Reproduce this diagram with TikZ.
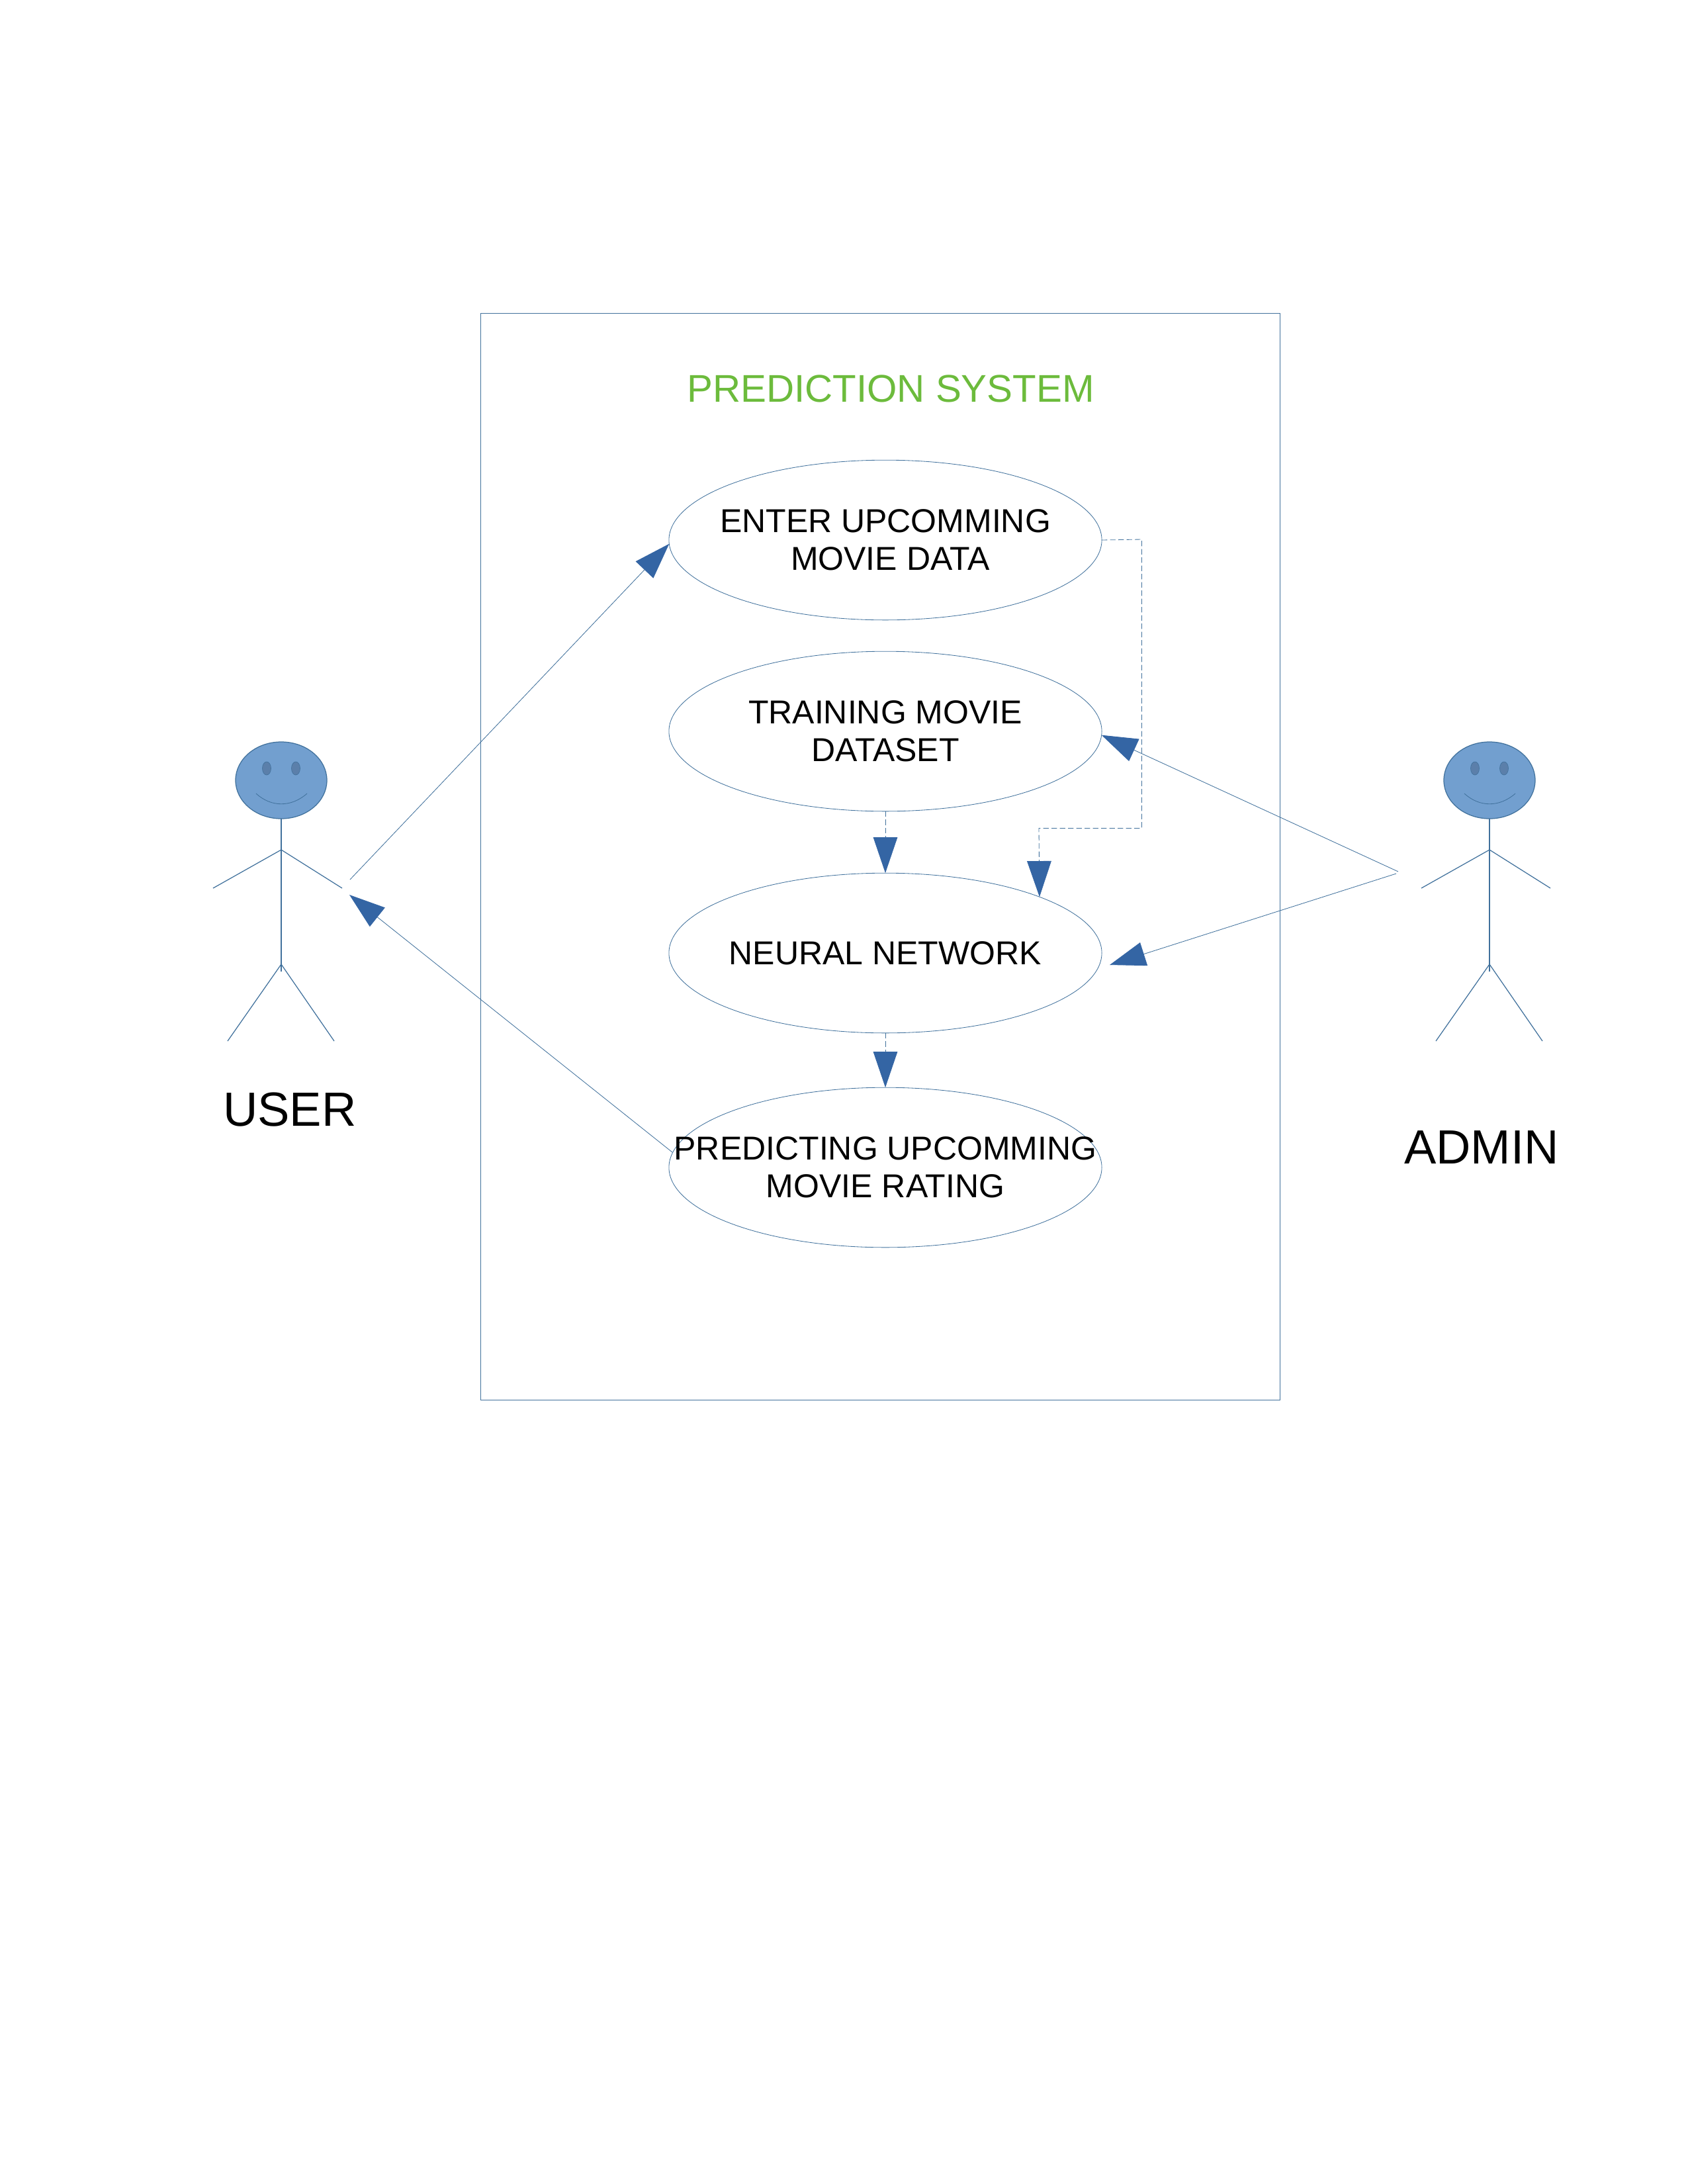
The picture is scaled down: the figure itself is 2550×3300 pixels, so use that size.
\documentclass[tikz,border=0pt]{standalone}
\usepackage{fontspec}
\setmainfont{Liberation Sans}
\usetikzlibrary{arrows.meta,shapes.geometric}
\definecolor{lineblue}{HTML}{41719C}
\definecolor{tipblue}{HTML}{3465A4}
\definecolor{headblue}{HTML}{729FCF}
\definecolor{eyeblue}{HTML}{5B7FAA}
\definecolor{titlegreen}{HTML}{6CBB3C}
\tikzset{
  usecase/.style={draw=lineblue,line width=.2pt,ellipse,minimum width=157pt,minimum height=58pt,
    inner xsep=-22pt,inner ysep=0pt,outer sep=0pt,align=center,font=\fontsize{12}{13.6}\selectfont},
  actorname/.style={inner sep=0pt,font=\fontsize{17.4}{20}\selectfont},
  flow/.style={draw=lineblue,line width=.2pt,-{Triangle[length=13pt,width=8.8pt,color=tipblue]}},
  dashflow/.style={flow,dash pattern=on 2pt off 1pt},
  figure/.style={draw=lineblue,line width=.3pt}
}
\begin{document}
\begin{tikzpicture}[x=.24pt,y=-.24pt]
\useasboundingbox (0,0) rectangle (2550,3300);
\draw[lineblue,line width=.2pt] (726,473) rectangle (1934,2115);
\node[text=titlegreen,inner sep=0pt,font=\fontsize{14}{16}\selectfont] (title) at (1346,587) {PREDICTION SYSTEM};
% use cases
\node[usecase] (enter) at (1338,816) {ENTER UPCOMMING\\\hspace*{3.6pt}MOVIE DATA};
\node[usecase] (training) at (1338,1105) {TRAINING MOVIE\\DATASET};
\node[usecase] (neural) at (1338,1440) {NEURAL NETWORK};
\node[usecase] (predict) at (1338,1764) {PREDICTING UPCOMMING\\MOVIE RATING};
% actors
\foreach \xa in {425,2251}{
  \draw[figure,fill=headblue] (\xa,1179) ellipse (69 and 58);
  \draw[figure,fill=eyeblue,line width=.15pt] (\xa-22,1161) ellipse (6.5 and 10);
  \draw[figure,fill=eyeblue,line width=.15pt] (\xa+22,1161) ellipse (6.5 and 10);
  \draw[figure,line width=.2pt] (\xa-38,1199) .. controls (\xa-15,1220) and (\xa+15,1220) .. (\xa+39,1199);
  \draw[figure] (\xa,1237) -- (\xa,1468);
  \draw[figure] (\xa-103,1342) -- (\xa,1284) -- (\xa+92,1342);
  \draw[figure] (\xa-81,1573) -- (\xa,1457) -- (\xa+80,1573);
}
\node[actorname] (user) at (438,1677) {USER};
\node[actorname] (admin) at (2239,1734) {ADMIN};
% free ends
\coordinate (userout) at (529,1329);
\coordinate (userin) at (528,1352);
\coordinate (adminup) at (2113,1317);
\coordinate (admindown) at (2110,1320);
\coordinate (neuralin) at (1677,1458);
\coordinate (bendA) at (1725.5,815);
\coordinate (bendB) at (1725.5,1251.5);
\coordinate (bendC) at (1570,1251.5);
% connectors
\draw[flow] (userout) -- (enter.181);
\draw[flow] (predict.176.5) -- (userin);
\draw[flow] (adminup) -- (training.359);
\draw[flow] (admindown) -- (neuralin);
\draw[dashflow] (training) -- (neural);
\draw[dashflow] (neural) -- (predict);
\draw[dashflow] (enter.east) -- (bendA) -- (bendB) -- (bendC) -- (neural.20);
\end{tikzpicture}
\end{document}
